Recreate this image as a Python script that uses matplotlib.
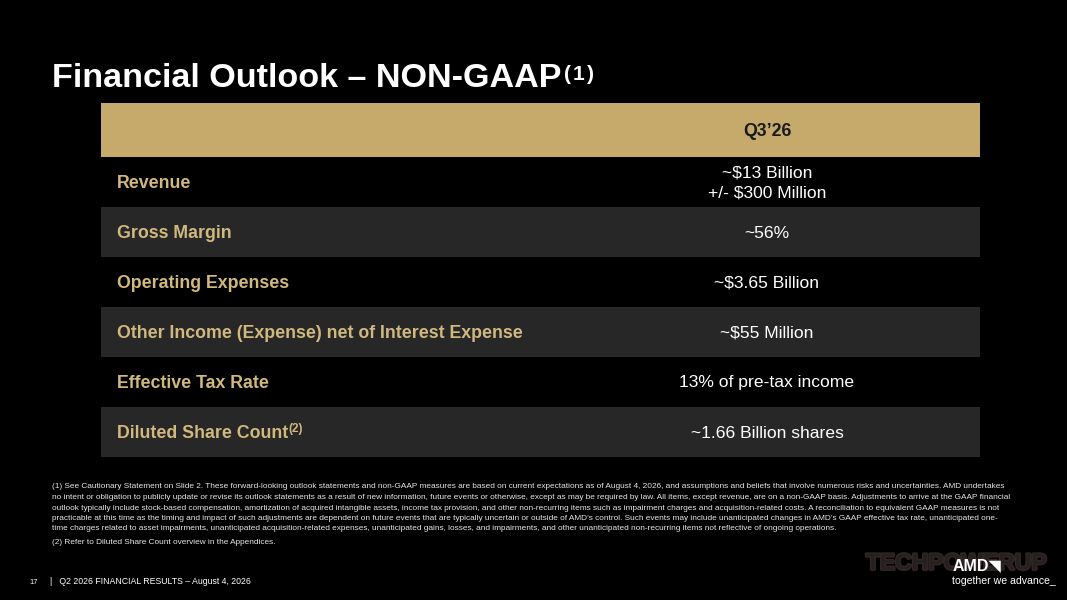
import matplotlib
matplotlib.use('Agg')
import matplotlib.pyplot as plt
import matplotlib.patheffects as pe
from matplotlib.patches import Rectangle

plt.rcParams['font.family'] = ['Liberation Sans', 'DejaVu Sans']

# datos de la tabla
header = "Q3\u201926"
row_labels = ["Revenue", "Gross Margin", "Operating Expenses",
              "Other Income (Expense) net of Interest Expense",
              "Effective Tax Rate", "Diluted Share Count"]
row_notes = ["", "", "", "", "", "(2)"]
row_values = ["~$13 Billion\n+/- $300 Million", "~56%", "~$3.65 Billion",
              "~$55 Million", "13% of pre-tax income", "~1.66 Billion shares"]

footnotes = [
    "(1) See Cautionary Statement on Slide 2. These forward-looking outlook statements and non-GAAP measures are based on current expectations as of August 4, 2026, and assumptions and beliefs that involve numerous risks and uncertainties. AMD undertakes",
    "no intent or obligation to publicly update or revise its outlook statements as a result of new information, future events or otherwise, except as may be required by law. All items, except revenue, are on a non-GAAP basis. Adjustments to arrive at the GAAP financial",
    "outlook typically include stock-based compensation, amortization of acquired intangible assets, income tax provision, and other non-recurring items such as impairment charges and acquisition-related costs. A reconciliation to equivalent GAAP measures is not",
    "practicable at this time as the timing and impact of such adjustments are dependent on future events that are typically uncertain or outside of AMD\u2019s control. Such events may include unanticipated changes in AMD\u2019s GAAP effective tax rate, unanticipated one-",
    "time charges related to asset impairments, unanticipated acquisition-related expenses, unanticipated gains, losses, and impairments, and other unanticipated non-recurring items not reflective of ongoing operations.",
]
footnote2 = "(2) Refer to Diluted Share Count overview in the Appendices."

BG = '#000000'
GOLD = '#C5AA6B'
LABEL = '#D1B87E'
GRAY = '#272727'

fig = plt.figure(figsize=(10.67, 6.0), dpi=100, facecolor=BG)
ax = fig.add_axes([0, 0, 1, 1])
ax.set_xlim(0, 1067)
ax.set_ylim(600, 0)
ax.axis('off')
ax.set_facecolor(BG)

# titulo (superindice con letras espaciadas)
t = ax.text(52, 87, "Financial Outlook \u2013 NON-GAAP", color='white',
            fontsize=24.6, fontweight='bold', va='baseline', ha='left')
prev = t
for j, ch in enumerate("(1)"):
    prev = ax.annotate(ch, xy=(1, 1) if j == 0 else (1, 0), xycoords=prev,
                       xytext=(1.5, -1.5) if j == 0 else (1.5, 0), textcoords='offset points',
                       color='white', fontsize=15, fontweight='bold',
                       va='top' if j == 0 else 'bottom', ha='left')

# tabla
x0, x1 = 101, 980
vc = 767
top = 103
hh = 54
rh = 50
ax.add_patch(Rectangle((x0, top), x1 - x0, hh, facecolor=GOLD, edgecolor='none'))
ax.text(vc, top + hh / 2 + 1, header, color='#1a1a1a', fontsize=12.8,
        fontweight='bold', ha='center', va='center')

y = top + hh
for i, (lab, note, val) in enumerate(zip(row_labels, row_notes, row_values)):
    if i % 2 == 1:
        ax.add_patch(Rectangle((x0, y), x1 - x0, rh, facecolor=GRAY, edgecolor='none'))
    lt = ax.text(117, y + rh / 2 + 1, lab, color=LABEL, fontsize=12.8,
                 fontweight='bold', ha='left', va='center')
    if note:
        ax.annotate(note, xy=(1, 1), xycoords=lt, xytext=(0, 1), textcoords='offset points',
                    color=LABEL, fontsize=8.5, fontweight='bold', va='top', ha='left')
    ax.text(vc, y + rh / 2 + 1, val, color='white', fontsize=12.6, ha='center',
            va='center', linespacing=1.4)
    y += rh

# notas al pie
fn_objs = []
for k, line in enumerate(footnotes):
    fn_objs.append(ax.text(52, 487 + k * 10.5, line, color='#e6e6e6', fontsize=5.5,
                           ha='left', va='center'))
fn_objs.append(ax.text(52, 543, footnote2, color='#e6e6e6', fontsize=5.5,
                       ha='left', va='center'))

# ajustar el ancho de la primera linea
fig.canvas.draw()
r = fig.canvas.get_renderer()
w = fn_objs[0].get_window_extent(r).width
scale = (1013 - 52) / w
for o in fn_objs:
    o.set_fontsize(5.5 * scale)

# marca de agua y logo
ax.text(956, 563, "TECHPOWERUP", color='#222222', fontsize=16.5, fontweight='bold',
        ha='center', va='center',
        path_effects=[pe.withStroke(linewidth=2, foreground='#382424')])
ax.text(953, 566, "AMD\u25e5", color='white', fontsize=11.5, fontweight='bold',
        ha='left', va='center')
ax.text(952, 581, "together we advance_", color='white', fontsize=7.6,
        ha='left', va='center')

# pie de pagina
ax.text(34, 582, "17", color='white', fontsize=5.5, ha='center', va='center')
ax.text(50, 582, "|   Q2 2026 FINANCIAL RESULTS \u2013 August 4, 2026", color='white',
        fontsize=6.3, ha='left', va='center')

fig.savefig('out.png', dpi=100, facecolor=BG)
